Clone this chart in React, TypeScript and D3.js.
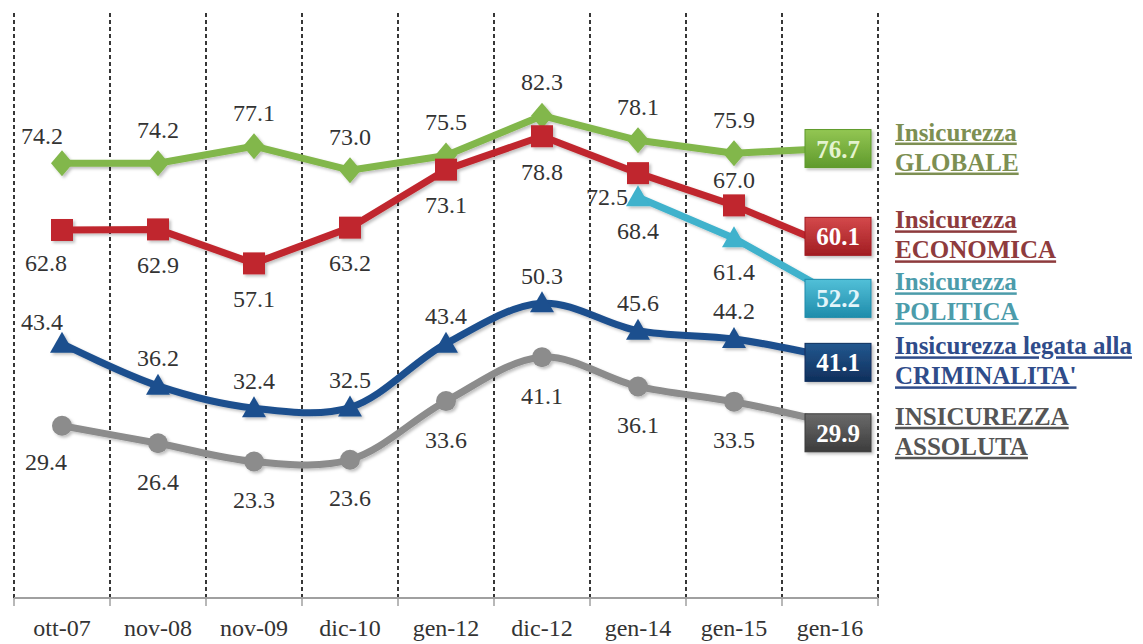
import React from 'react';
import * as d3 from 'd3';

// survey waves
const categories = ['ott-07', 'nov-08', 'nov-09', 'dic-10', 'gen-12', 'dic-12', 'gen-14', 'gen-15', 'gen-16'];

// values per index
const globale = [74.2, 74.2, 77.1, 73.0, 75.5, 82.3, 78.1, 75.9, 76.7];
const economica = [62.8, 62.9, 57.1, 63.2, 73.1, 78.8, 72.5, 67.0, 60.1];
const politica = [null, null, null, null, null, null, 68.4, 61.4, 52.2];
const criminalita = [43.4, 36.2, 32.4, 32.5, 43.4, 50.3, 45.6, 44.2, 41.1];
const assoluta = [29.4, 26.4, 23.3, 23.6, 33.6, 41.1, 36.1, 33.5, 29.9];

// legend text, two lines each
const legendTop = ['Insicurezza', 'Insicurezza', 'Insicurezza', 'Insicurezza legata alla', 'INSICUREZZA'];
const legendBottom = ['GLOBALE', 'ECONOMICA', 'POLITICA', "CRIMINALITA'", 'ASSOLUTA'];

// where each value label sits relative to its marker
const posGlobale = ['al', 'a', 'a', 'a', 'a', 'a', 'a', 'a', 'n'];
const posEconomica = ['bl', 'b', 'b', 'b', 'b', 'b', 'l', 'a', 'n'];
const posPolitica = ['n', 'n', 'n', 'n', 'n', 'n', 'b', 'b', 'n'];
const posCriminalita = ['al', 'a', 'a', 'a', 'a', 'a', 'a', 'a', 'n'];
const posAssoluta = ['bl', 'b', 'b', 'b', 'b', 'b', 'b', 'b', 'n'];

const series = [
  { values: globale, pos: posGlobale, color: '#82b74b', box: ['#93c653', '#5f9a2c'], boxText: '#e4f3cf', text: '#7d8f52', marker: 'diamond', smooth: false, above: -34, below: 34, shift: 0 },
  { values: economica, pos: posEconomica, color: '#c0282e', box: ['#d4494b', '#a11d22'], boxText: '#ffffff', text: '#8e3b3d', marker: 'square', smooth: false, above: -26, below: 35, shift: 0 },
  { values: politica, pos: posPolitica, color: '#3fb2cc', box: ['#52c0d8', '#1f8cab'], boxText: '#e3f5fa', text: '#4c9cab', marker: 'triangle', smooth: false, above: -30, below: 33, shift: 0 },
  { values: criminalita, pos: posCriminalita, color: '#1c4f8e', box: ['#23588f', '#0f2f5c'], boxText: '#ffffff', text: '#2f4c8a', marker: 'triangle', smooth: true, above: -28, below: 34, shift: 2 },
  { values: assoluta, pos: posAssoluta, color: '#8c8c8c', box: ['#6a6a6a', '#3c3c3c'], boxText: '#ffffff', text: '#555555', marker: 'circle', smooth: true, above: -30, below: 38, shift: 10 },
];

const W = 1143;
const H = 644;
const serif = '"Liberation Serif", "Times New Roman", serif';

const x = d3.scaleBand<string>().domain(categories).range([14, 878]);
const y = d3.scaleLinear().domain([0, 100]).range([598, 12]);
const cx = (i: number) => (x(categories[i]) as number) + x.bandwidth() / 2;

function Marker({ kind, color }: { kind: string; color: string }) {
  if (kind === 'diamond') return <path d="M0,-13L11,0L0,13L-11,0Z" fill={color} />;
  if (kind === 'square') return <rect x={-11} y={-11} width={22} height={22} fill={color} />;
  if (kind === 'triangle') return <path d="M0,-12L12,9L-12,9Z" fill={color} />;
  return <circle r={10} fill={color} />;
}

// push the end boxes apart so they don't overlap
function dodge(ys: number[], gap: number) {
  const out = ys.slice();
  for (let k = 0; k < 50; k++) {
    for (let i = 1; i < out.length; i++) {
      const d = out[i] - out[i - 1];
      if (d < gap) {
        const m = (gap - d) / 2;
        out[i - 1] -= m;
        out[i] += m;
      }
    }
  }
  return out;
}

export default function App() {
  const last = categories.length - 1;
  const boxY = dodge(series.map((s) => y(s.values[last] as number)), 62).map((v, i) => v + series[i].shift);
  const boxX = cx(last) + 8;
  const bounds = categories.map((c) => x(c) as number).concat([(x(categories[last]) as number) + x.bandwidth()]);

  const offset = (p: string, s: any) => {
    if (p === 'a') return [0, s.above];
    if (p === 'b') return [0, s.below];
    if (p === 'al') return [-20, s.above + 6];
    if (p === 'bl') return [-16, s.below - 2];
    if (p === 'l') return [-31, 23];
    return null;
  };

  return (
    <svg width={W} height={H} style={{ position: 'absolute', left: 0, top: 0, background: '#fff' }}>
      <defs>
        {series.map((s, i) => (
          <linearGradient key={i} id={'bx' + i} x1="0" y1="0" x2="0" y2="1">
            <stop offset="0%" stopColor={s.box[0]} />
            <stop offset="100%" stopColor={s.box[1]} />
          </linearGradient>
        ))}
        <filter id="sh" x="-20%" y="-20%" width="140%" height="140%">
          <feDropShadow dx="2" dy="2" stdDeviation="1.5" floodColor="#000" floodOpacity="0.25" />
        </filter>
      </defs>

      {/* vertical dashed separators */}
      {bounds.map((b, i) => (
        <line key={i} x1={b} x2={b} y1={13} y2={598} stroke="#222" strokeWidth={1.8} strokeDasharray="4,3" />
      ))}

      {/* x axis */}
      <line x1={14} x2={878} y1={598} y2={598} stroke="#a0a0a0" strokeWidth={2} />
      {bounds.map((b, i) => (
        <line key={i} x1={b} x2={b} y1={598} y2={606} stroke="#a0a0a0" strokeWidth={1.5} />
      ))}
      {categories.map((c, i) => (
        <text key={c} x={cx(i)} y={636} textAnchor="middle" fontFamily={serif} fontSize={24} fill="#333">
          {c}
        </text>
      ))}

      {/* lines */}
      {series.map((s, si) => {
        const line = d3
          .line<number | null>()
          .defined((v) => v != null)
          .x((_, i) => cx(i))
          .y((v) => y(v as number))
          .curve(s.smooth ? d3.curveCatmullRom.alpha(0.5) : d3.curveLinear);
        return (
          <g key={si} filter="url(#sh)">
            <path d={line(s.values) || ''} fill="none" stroke={s.color} strokeWidth={7} strokeLinejoin="round" />
            {s.values.map((v, i) =>
              v == null || i === last ? null : (
                <g key={i} transform={`translate(${cx(i)},${y(v)})`}>
                  <Marker kind={s.marker} color={s.color} />
                </g>
              )
            )}
          </g>
        );
      })}

      {/* value labels */}
      {series.map((s, si) =>
        s.values.map((v, i) => {
          if (v == null) return null;
          const o = offset(s.pos[i], s);
          if (!o) return null;
          return (
            <text key={si + '-' + i} x={cx(i) + o[0]} y={y(v) + o[1]} dy="0.35em" textAnchor="middle" fontFamily={serif} fontSize={24} fill="#333">
              {v.toFixed(1)}
            </text>
          );
        })
      )}

      {/* end boxes */}
      {series.map((s, si) => (
        <g key={si} transform={`translate(${boxX},${boxY[si]})`}>
          <rect x={-33} y={-19} width={66} height={38} fill={'url(#bx' + si + ')'} stroke={s.box[1]} strokeWidth={1} filter="url(#sh)" />
          <text x={0} y={0} dy="0.36em" textAnchor="middle" fontFamily={serif} fontWeight="bold" fontSize={25} fill={s.boxText}>
            {(s.values[last] as number).toFixed(1)}
          </text>
        </g>
      ))}

      {/* legend */}
      {series.map((s, si) => (
        <g key={si} fontFamily={serif} fontWeight="bold" fontSize={25} fill={s.text} style={{ textDecoration: 'underline' }}>
          <text x={895} y={boxY[si] - 8}>{legendTop[si]}</text>
          <text x={895} y={boxY[si] + 22}>{legendBottom[si]}</text>
        </g>
      ))}
    </svg>
  );
}
